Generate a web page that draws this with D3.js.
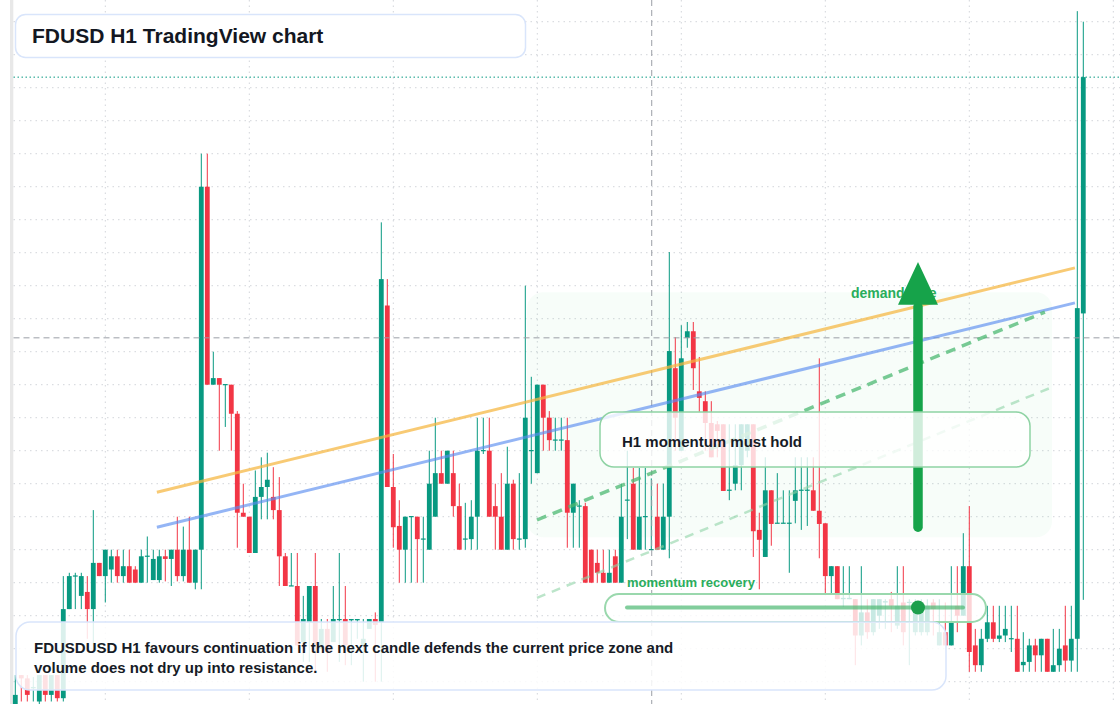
<!DOCTYPE html>
<html><head><meta charset="utf-8">
<script src="https://cdn.jsdelivr.net/npm/d3@7"></script>
<style>html,body{margin:0;padding:0;background:#fff;} svg{display:block;font-family:"Liberation Sans",Arial,Helvetica,sans-serif;}</style>
</head><body><svg id="c" width="1120" height="704"></svg>
<script>
// ---- data (FDUSD H1 candles, price) ----
const opens = [
0.9946,0.9951,0.99505,0.9949,0.9947,0.9951,0.9948,0.9951,0.99475,0.9961,
0.9966,0.9963,0.99636,0.9961,0.9968,0.9966,0.9967,0.9969,0.9966,0.99675,
0.9967,0.9965,0.9969,0.99654,0.99654,0.9969,0.99686,0.9970,0.9966,0.9970,
0.9965,0.9970,1.0025,0.9995,0.9996,0.9995,0.9995,0.99906,0.99756,0.9975,
0.99695,0.9978,0.99795,0.9978,0.9976,0.9969,0.99645,0.99645,0.9956,0.9959,
0.99645,0.9955,0.9958,0.9956,0.99594,0.99595,0.99593,0.99593,0.99555,0.9958,
0.99595,0.9959,1.0007,0.99795,0.99736,0.9970,0.9975,0.9975,0.99716,0.9970,
0.9975,0.99816,0.9980,0.99816,0.99766,0.99716,0.99716,0.9975,0.9985,0.9985,
0.99766,0.9975,0.9970,0.9980,0.99716,0.99716,0.9985,0.99816,0.9995,0.9990,
0.99866,0.99866,0.99866,0.99756,0.99766,0.99766,0.9970,0.9968,0.99665,0.9965,
0.9969,0.9965,0.99775,0.9980,0.9970,0.9975,0.9970,0.9975,0.9970,0.9975,
0.99975,0.9985,1.00021,1.00031,0.9994,0.99925,0.99892,0.9989,0.9989,0.9979,
0.9980,0.99828,0.9985,0.9989,0.9973,0.99689,0.9979,0.9974,0.9974,0.9974,
0.99774,0.9979,0.9979,0.9979,0.99759,0.9974,0.9966,0.99675,0.99625,0.99625,
0.99625,0.9957,0.99605,0.99575,0.9960,0.9962,0.99625,0.99585,0.9962,0.9962,
0.99575,0.99575,0.99575,0.9962,0.99555,0.99575,0.99555,0.99615,0.9960,0.99675,
0.99555,0.99525,0.99565,0.9959,0.99565,0.9957,0.99565,0.99565,0.99525,0.9953,
0.99555,0.9954,0.99565,0.99515,0.99525,0.99555,0.99532,0.99565,1.00058
];
const highs = [
0.9951,0.9951,0.9951,0.99507,0.9951,0.9951,0.9951,0.9951,0.9966,0.99665,
0.99665,0.99665,0.9966,0.9976,0.9968,0.9970,0.9970,0.9970,0.9970,0.9970,
0.99675,0.9970,0.9972,0.9970,0.9970,0.9970,0.9970,0.9975,0.99735,0.9975,
0.9970,1.0030,1.0030,1.0000,0.9996,0.9995,0.9995,0.9991,0.9980,0.9975,
0.9982,0.9984,0.99847,0.99825,0.9981,0.99695,0.99695,0.99695,0.9963,0.99645,
0.99695,0.99595,0.99595,0.99645,0.99695,0.99645,0.99595,0.99595,0.99595,0.99595,
0.99605,1.00196,1.0011,0.99845,0.99775,0.9975,0.9975,0.9975,0.9975,0.9985,
0.9990,0.9985,0.9985,0.9985,0.9980,0.99771,0.99775,0.9990,0.9990,0.9990,
0.9980,0.99816,0.99856,0.99806,0.99816,1.0010,0.99962,0.9995,0.9995,0.9991,
0.9990,0.9990,0.9990,0.9980,0.99775,0.99771,0.9970,0.9970,0.9970,0.9970,
0.9970,0.9980,0.9985,0.99824,0.99824,0.99824,0.99808,0.9980,0.9980,1.00151,
1.00022,1.0004,1.00045,1.00045,0.99992,0.9994,0.99925,0.99895,0.9989,0.9989,
0.9989,0.9989,0.9989,0.9989,0.99756,0.9984,0.9979,0.99816,0.9979,0.9979,
0.9984,0.9984,0.9984,0.9984,0.9999,0.9974,0.99675,0.99675,0.99675,0.99675,
0.99625,0.99675,0.99625,0.99625,0.99625,0.99625,0.99636,0.99675,0.99675,0.99625,
0.99625,0.99625,0.99625,0.99625,0.99625,0.9962,0.99675,0.99675,0.99725,0.99766,
0.9958,0.9958,0.99615,0.99615,0.99615,0.99615,0.99615,0.99615,0.99575,0.99565,
0.99565,0.99565,0.99565,0.9958,0.9958,0.99615,0.99615,1.00516,1.0050
];
const lows = [
0.9945,0.9947,0.9947,0.9947,0.99465,0.9947,0.9947,0.9947,0.9947,0.9961,
0.9961,0.9961,0.99565,0.99545,0.9966,0.9962,0.9965,0.9965,0.9965,0.9965,
0.9965,0.9965,0.9965,0.99654,0.9965,0.99652,0.99645,0.99652,0.99652,0.9965,
0.9964,0.9964,0.9995,0.9995,0.9985,0.99886,0.9985,0.99703,0.9975,0.99695,
0.99695,0.99746,0.99746,0.99746,0.99645,0.99645,0.99645,0.99555,0.9953,0.9953,
0.99515,0.9955,0.99515,0.9956,0.9953,0.99525,0.99525,0.99565,0.9950,0.9958,
0.9950,0.9950,0.99795,0.99703,0.9965,0.9965,0.9965,0.9965,0.9965,0.9970,
0.9975,0.9980,0.9980,0.9975,0.9970,0.9970,0.9970,0.9970,0.99845,0.9975,
0.9970,0.9970,0.9970,0.9970,0.9970,0.99703,0.9980,0.99816,0.9985,0.9985,
0.9985,0.9985,0.99703,0.99703,0.99703,0.9965,0.9965,0.9965,0.9965,0.9965,
0.9965,0.9965,0.99716,0.9970,0.9970,0.9970,0.9970,0.9970,0.9970,0.99687,
0.9985,0.9985,1.00006,0.99942,0.99909,0.9985,0.9984,0.9984,0.99789,0.99775,
0.9979,0.9979,0.9984,0.99689,0.9964,0.99689,0.99706,0.9974,0.9974,0.99665,
0.9974,0.9973,0.99736,0.99759,0.99687,0.99634,0.99634,0.99625,0.99613,0.99625,
0.99525,0.99555,0.99565,0.9957,0.9958,0.9958,0.99575,0.9958,0.99555,0.99525,
0.9957,0.9957,0.9957,0.9957,0.99555,0.99555,0.99555,0.99575,0.9960,0.99515,
0.99515,0.99515,0.9956,0.9956,0.9956,0.9956,0.99545,0.99515,0.99515,0.99515,
0.99515,0.99515,0.99515,0.99515,0.99515,0.99515,0.99515,0.99515,0.99624
];
const closes = [
0.9948,0.99505,0.9948,0.99492,0.9951,0.9948,0.9951,0.99475,0.9961,0.9966,
0.99661,0.9966,0.9961,0.9968,0.9966,0.9970,0.9969,0.9966,0.99675,0.9965,
0.9965,0.9969,0.99691,0.99686,0.9969,0.99686,0.9970,0.9966,0.9970,0.9965,
0.9970,1.0025,0.9995,0.9996,0.9995,0.99951,0.99906,0.99756,0.9975,0.99695,
0.9978,0.99795,0.99806,0.9976,0.9969,0.99645,0.99646,0.99555,0.99595,0.99645,
0.99555,0.9958,0.99545,0.99595,0.99595,0.99555,0.99595,0.99595,0.99565,0.99595,
0.99586,1.0011,0.99795,0.99734,0.9970,0.9975,0.99751,0.99716,0.99717,0.9980,
0.99816,0.9980,0.9985,0.99766,0.9970,0.99717,0.9975,0.9985,0.99851,0.9975,
0.9975,0.9970,0.9980,0.99716,0.99717,0.9990,0.99851,0.9995,0.9990,0.99866,
0.99867,0.99867,0.99756,0.9980,0.99767,0.9965,0.9965,0.99665,0.9965,0.99665,
0.9965,0.9975,0.99776,0.9970,0.9975,0.99751,0.99701,0.9970,0.9975,1.00001,
0.9990,0.9999,1.00031,0.99975,0.9993,0.99892,0.9984,0.9988,0.99789,0.99791,
0.99828,0.9989,0.9989,0.99728,0.99715,0.9979,0.99739,0.99741,0.99741,0.99741,
0.9979,0.99791,0.99791,0.99759,0.99739,0.9966,0.99675,0.99625,0.99627,0.99627,
0.9957,0.99605,0.99575,0.99625,0.99625,0.99622,0.99615,0.99615,0.99575,0.99621,
0.9961,0.99613,0.99615,0.9961,0.99575,0.99555,0.9959,0.9960,0.99675,0.99545,
0.99525,0.99565,0.9959,0.99565,0.9957,0.9958,0.99566,0.99515,0.9953,0.99555,
0.9954,0.99565,0.99515,0.99525,0.9955,0.99532,0.99565,1.00066,1.00416
];
// grid levels (price) and vertical grid candle indices
const gridPrices = [0.9950,0.9955,0.9960,0.9965,0.9970,0.9975,0.9980,0.9985,0.9990,0.9995,1.0000,
  1.0005,1.0010,1.0015,1.0020,1.0025,1.0030,1.0035,1.0040,1.0045,1.0050,1.0055];
const gridIndices = [15,39,63,87,111,135,159,183];
// annotations in (candle index, price)
const trendOrange = [[23.6,0.99787],[176.6,1.00127]];
const trendBlue = [[23.6,0.99734],[176.6,1.00074]];
const momentumDash = [[86.95,0.99745],[171.6,1.00060]];
const momentumDashLight = [[86.95,0.99627],[172.45,0.99945]];
const demandZone = [[85.3,1.0009],[172.8,0.99719]];
const crosshair = [106.07,1.00021];
const demandArrow = [150.45,0.99734,1.00071,1.00136]; // index, tail, head base, tip

const title = "FDUSD H1 TradingView chart";
const noteLines = ["FDUSDUSD H1 favours continuation if the next candle defends the current price zone and",
                   "volume does not dry up into resistance."];

// ---- scales ----
const W=1120,H=704, N=closes.length;
const svg=d3.select('#c');
const x=d3.scaleBand().domain(d3.range(N)).range([12.3,12.3+6*N]).paddingInner(0.2).paddingOuter(0.1);
const bw=x.bandwidth();
const xi=d3.scaleLinear().domain([0,N-1]).range([x(0)+bw/2,x(N-1)+bw/2]);
const y=d3.scaleLinear().domain([0.994662,1.005329]).range([H,0]);
const UP='#089981', DN='#f23645';

svg.append('rect').attr('width',W).attr('height',H).attr('fill','#fff');
svg.append('rect').attr('x',10).attr('y',0).attr('width',3.3).attr('height',H).attr('fill','#e8e8e8');

// grid
svg.append('g').selectAll('line').data(gridPrices).join('line')
  .attr('x1',13.5).attr('x2',W).attr('y1',d=>y(d)).attr('y2',d=>y(d))
  .attr('stroke','#d2d5da').attr('stroke-width',1).attr('stroke-dasharray','1.5,4');
svg.append('g').selectAll('line').data(gridIndices).join('line')
  .attr('x1',d=>xi(d)).attr('x2',d=>xi(d)).attr('y1',0).attr('y2',H)
  .attr('stroke','#d2d5da').attr('stroke-width',1).attr('stroke-dasharray','1.5,4');

// demand zone
svg.append('rect').attr('x',xi(demandZone[0][0])).attr('y',y(demandZone[0][1]))
  .attr('width',xi(demandZone[1][0])-xi(demandZone[0][0])).attr('height',y(demandZone[1][1])-y(demandZone[0][1]))
  .attr('rx',16).attr('fill','#22c55e').attr('fill-opacity',0.035);

// candles
const data=d3.range(N).map(i=>({i,o:opens[i],h:highs[i],l:lows[i],c:closes[i]}));
const cg=svg.append('g');
cg.selectAll('line').data(data).join('line')
  .attr('x1',d=>x(d.i)+bw/2).attr('x2',d=>x(d.i)+bw/2)
  .attr('y1',d=>y(d.h)).attr('y2',d=>y(d.l))
  .attr('stroke',d=>d.c>=d.o?UP:DN).attr('stroke-width',1);
cg.selectAll('rect').data(data).join('rect')
  .attr('x',d=>x(d.i)).attr('width',bw)
  .attr('y',d=>y(Math.max(d.o,d.c)))
  .attr('height',d=>Math.max(1.2,Math.abs(y(d.o)-y(d.c))))
  .attr('fill',d=>d.c>=d.o?UP:DN);

// crosshair + last price
svg.append('line').attr('x1',13.5).attr('x2',W).attr('y1',y(crosshair[1])).attr('y2',y(crosshair[1]))
  .attr('stroke','#9a9ea6').attr('stroke-width',1).attr('stroke-dasharray','6,4');
svg.append('line').attr('x1',xi(crosshair[0])).attr('x2',xi(crosshair[0])).attr('y1',0).attr('y2',H)
  .attr('stroke','#9a9ea6').attr('stroke-width',1).attr('stroke-dasharray','6,4');
svg.append('line').attr('x1',13.5).attr('x2',W).attr('y1',y(closes[N-1])).attr('y2',y(closes[N-1]))
  .attr('stroke',UP).attr('stroke-width',1).attr('stroke-dasharray','1.5,2.5');

// trend lines
const ln=d3.line().x(d=>xi(d[0])).y(d=>y(d[1]));
svg.append('path').attr('d',ln(trendOrange)).attr('fill','none').attr('stroke','#f5b53f').attr('stroke-opacity',0.72).attr('stroke-width',3);
svg.append('path').attr('d',ln(trendBlue)).attr('fill','none').attr('stroke','#5b8def').attr('stroke-opacity',0.65).attr('stroke-width',3);
svg.append('path').attr('d',ln(momentumDash)).attr('fill','none').attr('stroke','#4cb872').attr('stroke-opacity',0.75).attr('stroke-width',3.5).attr('stroke-dasharray','10,7');
svg.append('path').attr('d',ln(momentumDashLight)).attr('fill','none').attr('stroke','#8fd4a6').attr('stroke-opacity',0.6).attr('stroke-width',2.5).attr('stroke-dasharray','9,7');

// demand label + arrow
svg.append('text').attr('x',851).attr('y',298).attr('font-size',14).attr('font-weight','bold').attr('fill','#2aad5c').text('demand side');
const ax=xi(demandArrow[0]);
svg.append('line').attr('x1',ax).attr('x2',ax).attr('y1',y(demandArrow[1])).attr('y2',y(demandArrow[2])+2)
  .attr('stroke','#16a34a').attr('stroke-width',9.5).attr('stroke-linecap','round');
svg.append('path').attr('d',`M${ax},${y(demandArrow[3])} L${ax+20},${y(demandArrow[2])} L${ax-20},${y(demandArrow[2])} Z`).attr('fill','#16a34a');

// H1 momentum box
svg.append('rect').attr('x',600).attr('y',412).attr('width',430).attr('height',55).attr('rx',14)
  .attr('fill','#fff').attr('fill-opacity',0.8).attr('stroke','#8fd3a4').attr('stroke-width',1.5);
svg.append('text').attr('x',622).attr('y',447).attr('font-size',15).attr('font-weight','bold').attr('fill','#161b26').text('H1 momentum must hold');

// momentum recovery slider
svg.append('text').attr('x',627).attr('y',587).attr('font-size',13).attr('font-weight','bold').attr('fill','#2aad5c').text('momentum recovery');
svg.append('rect').attr('x',605).attr('y',594).attr('width',381).attr('height',28).attr('rx',14)
  .attr('fill','#fff').attr('fill-opacity',0.78).attr('stroke','#9ad8ad').attr('stroke-width',2);
svg.append('line').attr('x1',627).attr('x2',963).attr('y1',607.5).attr('y2',607.5)
  .attr('stroke','#4cb872').attr('stroke-opacity',0.7).attr('stroke-width',4).attr('stroke-linecap','round');
svg.append('circle').attr('cx',918).attr('cy',607.5).attr('r',7).attr('fill','#1c9f4c');

// bottom note box
svg.append('rect').attr('x',16).attr('y',622).attr('width',930).attr('height',68).attr('rx',14)
  .attr('fill','#fff').attr('fill-opacity',0.85).attr('stroke','#d9e5fb').attr('stroke-width',1.5);
svg.append('g').selectAll('text').data(noteLines).join('text')
  .attr('x',34).attr('y',(d,i)=>653+i*20).attr('font-size',15).attr('font-weight','bold').attr('fill','#161b26').text(d=>d);

// title box
svg.append('rect').attr('x',15.5).attr('y',14.5).attr('width',510).attr('height',43).attr('rx',10)
  .attr('fill','#fff').attr('stroke','#d9e5fb').attr('stroke-width',1.5);
svg.append('text').attr('x',32).attr('y',43).attr('font-size',21).attr('font-weight','bold').attr('fill','#131722').text(title);
</script></body></html>
